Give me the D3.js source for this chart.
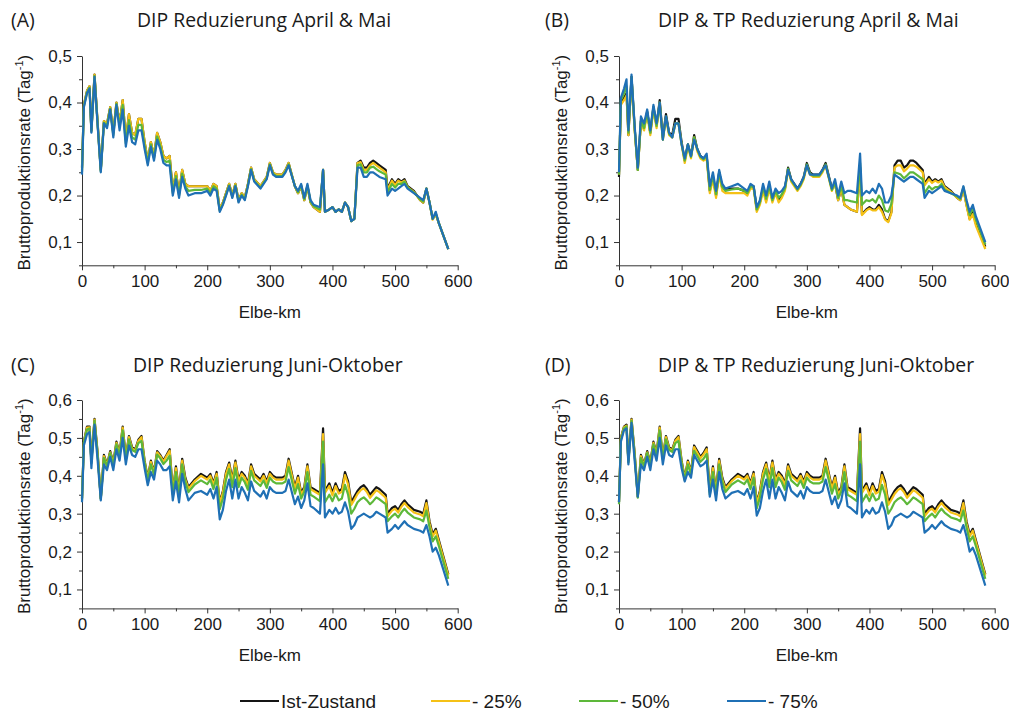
<!DOCTYPE html>
<html>
<head>
<meta charset="utf-8">
<script src="https://cdn.jsdelivr.net/npm/d3@7"></script>
<style>
body { margin: 0; background: #fff; }
text { font-family: "Liberation Sans", Arial, sans-serif; fill: #1a1a1a; }
.title { font-family: "Open Sans", sans-serif; font-size: 19.4px; }
</style>
</head>
<body>
<svg id="chart" width="1009" height="711"></svg>
<script>
// Elbe-km positions shared by all panels
const km = [0,3,8,12,15,20,25,30,35,40,
  45,50,55,60,65,70,75,80,85,90,
  95,100,105,110,115,120,125,130,135,140,
  145,150,155,160,165,170,180,190,200,205,
  210,215,220,225,230,235,240,245,250,255,
  260,265,270,275,285,290,295,300,305,310,
  320,325,330,340,345,350,355,360,365,370,
  380,385,388,395,400,405,410,415,420,425,
  430,435,440,445,450,455,460,465,470,475,
  485,488,495,500,505,510,515,520,530,540,
  545,550,555,560,565,570,585];

// (A) DIP Reduzierung April & Mai
const aIst = [0.26,0.395,0.425,0.435,0.34,0.46,0.355,0.255,0.36,0.355,
  0.39,0.335,0.4,0.355,0.405,0.32,0.375,0.335,0.33,0.365,
  0.365,0.315,0.275,0.315,0.285,0.335,0.315,0.285,0.28,0.285,
  0.21,0.25,0.205,0.255,0.225,0.22,0.22,0.22,0.22,0.21,
  0.225,0.22,0.17,0.185,0.205,0.225,0.2,0.225,0.19,0.205,
  0.195,0.225,0.26,0.235,0.22,0.23,0.24,0.27,0.25,0.245,
  0.245,0.255,0.27,0.22,0.205,0.22,0.19,0.22,0.185,0.175,
  0.165,0.255,0.165,0.17,0.175,0.165,0.17,0.165,0.185,0.175,
  0.145,0.15,0.27,0.275,0.26,0.26,0.27,0.275,0.27,0.265,
  0.255,0.215,0.235,0.225,0.235,0.23,0.235,0.22,0.21,0.19,
  0.185,0.215,0.185,0.15,0.16,0.14,0.085];
const a25 = [0.255,0.395,0.425,0.435,0.34,0.46,0.355,0.255,0.36,0.355,
  0.39,0.335,0.4,0.355,0.405,0.32,0.375,0.335,0.33,0.365,
  0.365,0.315,0.275,0.315,0.285,0.335,0.315,0.285,0.28,0.285,
  0.21,0.25,0.205,0.255,0.225,0.22,0.22,0.22,0.22,0.21,
  0.225,0.22,0.17,0.185,0.205,0.225,0.2,0.225,0.19,0.205,
  0.195,0.225,0.26,0.235,0.22,0.23,0.24,0.27,0.25,0.245,
  0.245,0.255,0.27,0.22,0.205,0.22,0.19,0.22,0.185,0.175,
  0.165,0.255,0.165,0.17,0.175,0.165,0.17,0.165,0.185,0.175,
  0.145,0.15,0.27,0.272,0.255,0.255,0.265,0.27,0.265,0.26,
  0.25,0.212,0.232,0.222,0.232,0.228,0.232,0.218,0.208,0.19,
  0.185,0.215,0.185,0.148,0.16,0.14,0.085];
const a50 = [0.25,0.392,0.422,0.432,0.337,0.457,0.352,0.252,0.357,0.35,
  0.387,0.33,0.397,0.348,0.395,0.312,0.362,0.325,0.32,0.352,
  0.352,0.307,0.27,0.31,0.28,0.327,0.307,0.277,0.272,0.275,
  0.205,0.242,0.2,0.247,0.22,0.21,0.212,0.212,0.215,0.205,
  0.22,0.215,0.167,0.182,0.202,0.222,0.197,0.222,0.187,0.202,
  0.192,0.222,0.257,0.232,0.217,0.227,0.237,0.267,0.247,0.242,
  0.242,0.252,0.267,0.22,0.207,0.222,0.192,0.222,0.187,0.177,
  0.17,0.255,0.165,0.17,0.175,0.165,0.17,0.165,0.185,0.175,
  0.145,0.15,0.265,0.267,0.25,0.25,0.26,0.262,0.257,0.252,
  0.245,0.207,0.225,0.217,0.225,0.225,0.23,0.217,0.207,0.192,
  0.187,0.215,0.185,0.15,0.162,0.14,0.085];
const a75 = [0.245,0.39,0.42,0.43,0.335,0.455,0.35,0.25,0.355,0.345,
  0.385,0.325,0.395,0.34,0.385,0.305,0.35,0.315,0.31,0.34,
  0.34,0.3,0.265,0.305,0.275,0.32,0.3,0.27,0.265,0.265,
  0.2,0.235,0.195,0.24,0.215,0.2,0.205,0.205,0.21,0.2,
  0.215,0.21,0.165,0.18,0.2,0.22,0.195,0.22,0.185,0.2,
  0.19,0.22,0.255,0.23,0.215,0.225,0.235,0.265,0.245,0.24,
  0.24,0.25,0.265,0.22,0.21,0.225,0.195,0.225,0.19,0.18,
  0.175,0.255,0.165,0.17,0.175,0.165,0.17,0.165,0.185,0.175,
  0.145,0.15,0.26,0.26,0.24,0.24,0.25,0.25,0.245,0.24,
  0.235,0.2,0.215,0.21,0.215,0.22,0.225,0.215,0.205,0.195,
  0.19,0.215,0.185,0.15,0.165,0.14,0.085];

// (B) DIP & TP Reduzierung April & Mai
const bIst = [0.24,0.4,0.41,0.42,0.33,0.455,0.345,0.255,0.36,0.345,
  0.38,0.335,0.39,0.35,0.405,0.325,0.375,0.335,0.33,0.365,
  0.365,0.315,0.275,0.31,0.285,0.33,0.3,0.285,0.28,0.285,
  0.21,0.24,0.2,0.25,0.215,0.215,0.215,0.215,0.21,0.205,
  0.22,0.22,0.17,0.185,0.215,0.19,0.22,0.19,0.21,0.19,
  0.2,0.215,0.26,0.235,0.215,0.225,0.24,0.27,0.25,0.245,
  0.245,0.255,0.27,0.215,0.225,0.19,0.215,0.18,0.175,0.17,
  0.165,0.26,0.16,0.17,0.175,0.17,0.17,0.18,0.17,0.15,
  0.145,0.165,0.265,0.275,0.275,0.26,0.265,0.275,0.275,0.27,
  0.255,0.225,0.24,0.23,0.235,0.23,0.235,0.22,0.21,0.195,
  0.19,0.215,0.18,0.15,0.165,0.14,0.09];
const b25 = [0.245,0.395,0.405,0.415,0.33,0.45,0.34,0.255,0.355,0.34,
  0.375,0.33,0.385,0.345,0.4,0.32,0.365,0.33,0.325,0.355,
  0.355,0.31,0.27,0.305,0.28,0.325,0.295,0.28,0.275,0.28,
  0.205,0.235,0.195,0.245,0.21,0.205,0.205,0.205,0.205,0.2,
  0.215,0.215,0.165,0.18,0.21,0.185,0.215,0.185,0.205,0.185,
  0.195,0.21,0.255,0.23,0.21,0.22,0.235,0.265,0.245,0.24,
  0.24,0.25,0.265,0.21,0.225,0.19,0.215,0.18,0.175,0.17,
  0.165,0.255,0.158,0.168,0.172,0.168,0.168,0.175,0.165,0.148,
  0.143,0.162,0.26,0.265,0.265,0.252,0.258,0.265,0.265,0.262,
  0.25,0.222,0.235,0.227,0.232,0.228,0.232,0.218,0.208,0.195,
  0.19,0.213,0.178,0.148,0.16,0.135,0.085];
const b50 = [0.245,0.405,0.42,0.435,0.335,0.455,0.345,0.255,0.36,0.345,
  0.38,0.335,0.39,0.35,0.4,0.32,0.37,0.333,0.325,0.355,
  0.355,0.31,0.275,0.31,0.283,0.325,0.3,0.283,0.278,0.285,
  0.212,0.243,0.203,0.25,0.218,0.21,0.213,0.215,0.21,0.205,
  0.22,0.218,0.17,0.185,0.218,0.193,0.222,0.19,0.21,0.195,
  0.202,0.215,0.258,0.233,0.213,0.223,0.238,0.267,0.247,0.243,
  0.243,0.253,0.267,0.212,0.228,0.195,0.222,0.19,0.19,0.188,
  0.185,0.27,0.18,0.19,0.188,0.192,0.185,0.2,0.19,0.168,
  0.165,0.182,0.25,0.248,0.245,0.237,0.243,0.25,0.25,0.245,
  0.235,0.205,0.22,0.213,0.218,0.218,0.225,0.213,0.205,0.198,
  0.193,0.218,0.187,0.158,0.173,0.148,0.095];
const b75 = [0.25,0.41,0.43,0.45,0.34,0.46,0.35,0.26,0.37,0.355,
  0.385,0.34,0.395,0.355,0.4,0.32,0.37,0.335,0.325,0.355,
  0.355,0.31,0.28,0.31,0.285,0.32,0.3,0.285,0.28,0.29,
  0.22,0.25,0.21,0.255,0.225,0.215,0.22,0.225,0.215,0.21,
  0.225,0.22,0.175,0.19,0.225,0.2,0.23,0.195,0.215,0.205,
  0.21,0.22,0.255,0.235,0.215,0.225,0.24,0.265,0.245,0.245,
  0.245,0.255,0.265,0.215,0.235,0.2,0.23,0.205,0.21,0.21,
  0.205,0.29,0.2,0.21,0.205,0.215,0.205,0.225,0.215,0.185,
  0.185,0.2,0.245,0.24,0.235,0.23,0.235,0.24,0.24,0.235,
  0.225,0.195,0.21,0.205,0.21,0.215,0.22,0.21,0.205,0.2,
  0.195,0.22,0.19,0.165,0.18,0.155,0.1];

// (C) DIP Reduzierung Juni-Oktober
const cIst = [0.34,0.49,0.53,0.53,0.44,0.55,0.46,0.34,0.455,0.43,
  0.465,0.435,0.49,0.46,0.53,0.45,0.505,0.475,0.47,0.495,
  0.505,0.44,0.395,0.44,0.41,0.465,0.455,0.44,0.455,0.47,
  0.36,0.425,0.36,0.445,0.395,0.37,0.39,0.405,0.395,0.405,
  0.38,0.41,0.33,0.36,0.41,0.435,0.39,0.44,0.39,0.41,
  0.4,0.38,0.43,0.405,0.39,0.405,0.385,0.41,0.4,0.395,
  0.395,0.4,0.445,0.37,0.4,0.355,0.37,0.43,0.37,0.365,
  0.355,0.525,0.36,0.38,0.355,0.38,0.36,0.365,0.41,0.385,
  0.33,0.345,0.36,0.37,0.375,0.365,0.35,0.36,0.37,0.365,
  0.35,0.3,0.315,0.32,0.31,0.325,0.335,0.325,0.31,0.305,
  0.3,0.335,0.28,0.245,0.26,0.23,0.14];
const c25 = [0.34,0.488,0.527,0.528,0.437,0.548,0.457,0.34,0.452,0.428,
  0.462,0.432,0.487,0.457,0.527,0.447,0.502,0.472,0.467,0.492,
  0.502,0.437,0.392,0.437,0.407,0.462,0.452,0.437,0.452,0.466,
  0.357,0.42,0.356,0.44,0.39,0.366,0.386,0.4,0.39,0.4,
  0.376,0.405,0.326,0.356,0.405,0.43,0.385,0.435,0.385,0.405,
  0.395,0.375,0.425,0.4,0.385,0.4,0.38,0.405,0.395,0.39,
  0.39,0.395,0.44,0.365,0.395,0.35,0.365,0.425,0.365,0.36,
  0.35,0.51,0.355,0.373,0.348,0.373,0.353,0.358,0.402,0.377,
  0.323,0.337,0.352,0.362,0.367,0.357,0.342,0.352,0.362,0.357,
  0.342,0.293,0.308,0.313,0.303,0.318,0.328,0.318,0.303,0.298,
  0.293,0.328,0.274,0.24,0.255,0.225,0.137];
const c50 = [0.335,0.487,0.522,0.525,0.433,0.545,0.453,0.338,0.447,0.425,
  0.46,0.428,0.483,0.453,0.52,0.443,0.496,0.468,0.463,0.486,
  0.492,0.433,0.388,0.43,0.403,0.456,0.446,0.431,0.44,0.453,
  0.35,0.41,0.349,0.43,0.384,0.357,0.377,0.388,0.378,0.39,
  0.365,0.395,0.312,0.34,0.39,0.418,0.37,0.42,0.37,0.395,
  0.383,0.363,0.413,0.388,0.373,0.388,0.368,0.395,0.385,0.38,
  0.38,0.385,0.423,0.353,0.378,0.34,0.358,0.41,0.35,0.345,
  0.333,0.49,0.33,0.35,0.333,0.353,0.335,0.34,0.376,0.35,
  0.3,0.313,0.33,0.338,0.343,0.335,0.325,0.333,0.343,0.338,
  0.325,0.28,0.293,0.3,0.29,0.303,0.313,0.303,0.29,0.285,
  0.28,0.308,0.264,0.227,0.24,0.214,0.128];
const c75 = [0.33,0.48,0.51,0.515,0.42,0.535,0.44,0.335,0.43,0.415,
  0.45,0.415,0.47,0.44,0.5,0.43,0.48,0.455,0.45,0.47,
  0.47,0.42,0.375,0.41,0.39,0.44,0.43,0.415,0.415,0.425,
  0.335,0.385,0.33,0.405,0.365,0.335,0.355,0.36,0.35,0.365,
  0.34,0.37,0.285,0.31,0.36,0.39,0.34,0.39,0.34,0.37,
  0.355,0.335,0.385,0.36,0.345,0.36,0.34,0.37,0.36,0.355,
  0.355,0.36,0.39,0.325,0.345,0.315,0.335,0.38,0.32,0.315,
  0.3,0.43,0.29,0.31,0.3,0.315,0.3,0.305,0.33,0.305,
  0.26,0.27,0.29,0.295,0.3,0.295,0.29,0.295,0.305,0.3,
  0.29,0.25,0.26,0.27,0.26,0.27,0.28,0.27,0.26,0.255,
  0.25,0.27,0.24,0.2,0.21,0.19,0.11];

// (D) DIP & TP Reduzierung Juni-Oktober
const dIst = [0.33,0.5,0.53,0.535,0.44,0.55,0.46,0.345,0.455,0.43,
  0.465,0.435,0.49,0.46,0.53,0.45,0.505,0.475,0.47,0.495,
  0.505,0.44,0.395,0.44,0.41,0.48,0.465,0.45,0.46,0.475,
  0.36,0.425,0.36,0.445,0.395,0.37,0.39,0.405,0.395,0.405,
  0.38,0.41,0.33,0.36,0.41,0.435,0.39,0.44,0.39,0.41,
  0.4,0.38,0.43,0.405,0.39,0.405,0.385,0.41,0.4,0.395,
  0.395,0.4,0.445,0.37,0.4,0.355,0.37,0.43,0.37,0.365,
  0.355,0.525,0.36,0.38,0.355,0.38,0.36,0.365,0.41,0.385,
  0.33,0.345,0.36,0.37,0.375,0.365,0.35,0.36,0.37,0.365,
  0.35,0.3,0.315,0.32,0.31,0.325,0.335,0.325,0.31,0.305,
  0.3,0.335,0.28,0.245,0.26,0.23,0.14];
const d25 = [0.33,0.498,0.528,0.532,0.437,0.548,0.457,0.345,0.452,0.428,
  0.462,0.432,0.487,0.457,0.527,0.447,0.502,0.472,0.467,0.492,
  0.502,0.437,0.392,0.437,0.407,0.476,0.461,0.446,0.456,0.47,
  0.357,0.42,0.356,0.44,0.39,0.366,0.386,0.4,0.39,0.4,
  0.376,0.405,0.326,0.356,0.405,0.43,0.385,0.435,0.385,0.405,
  0.395,0.375,0.425,0.4,0.385,0.4,0.38,0.405,0.395,0.39,
  0.39,0.395,0.44,0.365,0.395,0.35,0.365,0.425,0.365,0.36,
  0.35,0.51,0.355,0.373,0.348,0.373,0.353,0.358,0.402,0.377,
  0.323,0.337,0.352,0.362,0.367,0.357,0.342,0.352,0.362,0.357,
  0.342,0.293,0.308,0.313,0.303,0.318,0.328,0.318,0.303,0.298,
  0.293,0.328,0.274,0.24,0.255,0.225,0.137];
const d50 = [0.325,0.495,0.525,0.53,0.435,0.545,0.453,0.342,0.447,0.425,
  0.46,0.428,0.483,0.453,0.52,0.443,0.496,0.468,0.463,0.486,
  0.492,0.433,0.388,0.43,0.403,0.466,0.452,0.437,0.445,0.458,
  0.35,0.41,0.349,0.43,0.384,0.357,0.377,0.388,0.378,0.39,
  0.365,0.395,0.314,0.342,0.39,0.418,0.37,0.42,0.37,0.395,
  0.383,0.363,0.413,0.388,0.373,0.388,0.368,0.395,0.385,0.38,
  0.38,0.385,0.423,0.353,0.378,0.34,0.358,0.41,0.35,0.345,
  0.333,0.49,0.33,0.35,0.333,0.353,0.335,0.34,0.376,0.35,
  0.3,0.313,0.33,0.338,0.343,0.335,0.325,0.333,0.343,0.338,
  0.325,0.28,0.293,0.3,0.29,0.303,0.313,0.303,0.29,0.285,
  0.28,0.308,0.264,0.227,0.24,0.214,0.128];
const d75 = [0.33,0.49,0.52,0.525,0.43,0.54,0.44,0.345,0.43,0.415,
  0.45,0.415,0.47,0.44,0.5,0.43,0.48,0.455,0.45,0.47,
  0.47,0.42,0.385,0.41,0.395,0.455,0.44,0.425,0.43,0.44,
  0.345,0.39,0.335,0.41,0.365,0.34,0.355,0.36,0.35,0.365,
  0.34,0.37,0.295,0.315,0.36,0.39,0.34,0.39,0.34,0.37,
  0.355,0.335,0.385,0.36,0.345,0.36,0.34,0.37,0.36,0.355,
  0.355,0.36,0.39,0.325,0.345,0.315,0.335,0.38,0.32,0.315,
  0.3,0.43,0.29,0.31,0.3,0.315,0.3,0.305,0.33,0.305,
  0.26,0.27,0.29,0.295,0.3,0.295,0.29,0.295,0.305,0.3,
  0.29,0.25,0.26,0.27,0.26,0.27,0.28,0.27,0.26,0.255,
  0.25,0.27,0.24,0.2,0.21,0.19,0.11];

const seriesNames = ["Ist-Zustand", "- 25%", "- 50%", "- 75%"];
const colors = ["#151515", "#f5c116", "#5db83a", "#1f70b5"];
const panelTags = ["(A)", "(B)", "(C)", "(D)"];
const panelTitles = ["DIP Reduzierung April & Mai", "DIP & TP Reduzierung April & Mai",
  "DIP Reduzierung Juni-Oktober", "DIP & TP Reduzierung Juni-Oktober"];
const panelSeries = [[aIst, a25, a50, a75], [bIst, b25, b50, b75],
  [cIst, c25, c50, c75], [dIst, d25, d50, d75]];
const yMaxes = [0.5, 0.5, 0.6, 0.6];
const xTicks = [0, 100, 200, 300, 400, 500, 600];

const svg = d3.select("#chart");
const fmt = d3.formatLocale({decimal: ",", thousands: ".", grouping: [3], currency: ["", "€"]}).format(".1f");

// layout of the 2x2 grid
const colLeft = [82, 619];
const rowTop = [56, 400];
const rowBottom = [265.3, 608.4];
const plotW = 375.7;

panelSeries.forEach((series, p) => {
  const col = p % 2, row = Math.floor(p / 2);
  const x0 = colLeft[col], yTop = rowTop[row], yBot = rowBottom[row];
  const x = d3.scaleLinear().domain([0, 600]).range([x0, x0 + plotW]);
  const y = d3.scaleLinear().domain([0.05, yMaxes[p]]).range([yBot, yTop]);
  const g = svg.append("g");

  // titles
  g.append("text").attr("x", col ? 545 : 11).attr("y", row ? 371.5 : 27)
    .attr("class", "title").text(panelTags[p]);
  g.append("text").attr("x", col ? 658 : (row ? 133 : 137)).attr("y", row ? 371.5 : 27)
    .attr("class", "title").text(panelTitles[p]);

  // x axis with minor ticks
  g.append("g").attr("transform", `translate(0,${yBot})`)
    .call(d3.axisBottom(x).tickValues(xTicks).tickSize(5).tickSizeOuter(0).tickPadding(5));
  g.append("g").attr("transform", `translate(0,${yBot})`)
    .call(d3.axisBottom(x).tickValues(d3.range(50, 600, 100)).tickSize(3).tickFormat(""))
    .select(".domain").remove();

  const yTicks = d3.range(1, Math.round(yMaxes[p] * 10) + 1).map(d => d / 10);
  g.append("g").attr("transform", `translate(${x0},0)`)
    .call(d3.axisLeft(y).tickValues(yTicks).tickFormat(fmt).tickSize(5).tickSizeOuter(0).tickPadding(5));
  g.append("g").attr("transform", `translate(${x0},0)`)
    .call(d3.axisLeft(y).tickValues(yTicks.map(d => d - 0.05)).tickSize(3).tickFormat(""))
    .select(".domain").remove();

  g.selectAll(".tick text").style("font-size", "17px").style("font-family", '"Liberation Sans", Arial, sans-serif').attr("fill", "#1a1a1a");
  g.selectAll(".domain, .tick line").attr("stroke", "#333");

  // axis titles
  g.append("text").attr("x", x0 + plotW / 2).attr("y", yBot + 53)
    .attr("text-anchor", "middle").style("font-size", "17px").text("Elbe-km");
  const yl = g.append("text")
    .attr("transform", `translate(${col ? 567 : 30},${(yTop + yBot) / 2 + 2}) rotate(-90)`)
    .attr("text-anchor", "middle").style("font-size", "17px");
  yl.append("tspan").text("Bruttoproduktionsrate (Tag");
  yl.append("tspan").attr("dy", -7).style("font-size", "11px").text("-1");
  yl.append("tspan").attr("dy", 7).text(")");

  // lines
  const line = d3.line().x((d, i) => x(km[i])).y(d => y(d));
  g.selectAll("path.series").data(series).enter().append("path")
    .attr("class", "series")
    .attr("d", line)
    .attr("fill", "none")
    .attr("stroke", (d, i) => colors[i])
    .attr("stroke-width", 2.2)
    .attr("stroke-linejoin", "round");
});

// legend
const legendX = [240, 431, 579, 727];
const legend = svg.append("g");
seriesNames.forEach((name, i) => {
  legend.append("line").attr("x1", legendX[i]).attr("x2", legendX[i] + 39)
    .attr("y1", 701).attr("y2", 701).attr("stroke", colors[i]).attr("stroke-width", 2);
  legend.append("text").attr("x", legendX[i] + 41).attr("y", 708)
    .style("font-size", "19px").text(name);
});
</script>
</body>
</html>
